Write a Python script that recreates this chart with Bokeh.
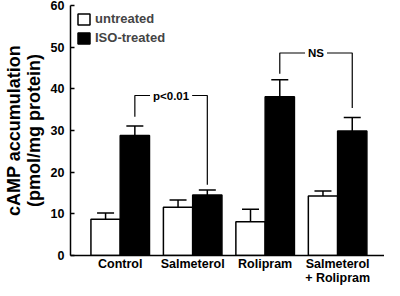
from bokeh.plotting import figure
from bokeh.models import (Range1d, FixedTicker, ColumnDataSource, Whisker, TeeHead,
                          Legend, LegendItem)
from bokeh.core.properties import value
from bokeh.embed import file_html
from bokeh.resources import INLINE

# ---------------- data ----------------
categories = ["Control", "Salmeterol", "Rolipram", "Salmeterol\n+ Rolipram"]
untreated = [8.7, 11.6, 8.1, 14.3]
untreated_sem = [1.5, 1.7, 3.0, 1.2]
iso_treated = [28.8, 14.5, 38.1, 29.9]
iso_sem = [2.3, 1.2, 4.1, 3.2]
y_ticks = [0, 10, 20, 30, 40, 50, 60]

# significance brackets between ISO-treated bars
bracket_from = [0, 2]
bracket_to = [1, 3]
bracket_top = [38.4, 48.6]
bracket_left_end = [33.3, 43.6]
bracket_right_end = [17.0, 35.4]
bracket_labels = ["p<0.01", "NS"]

# ---------------- layout ----------------
FONT = "Liberation Sans"
bar_w = 0.404
off = bar_w / 2
groups = list(range(len(categories)))

p = figure(width=384, height=288, output_backend="svg", toolbar_location=None,
           x_range=Range1d(-0.686, 3.647), y_range=Range1d(0, 60),
           min_border_left=62, min_border_right=0, min_border_top=5, min_border_bottom=0)
p.outline_line_color = None
p.xgrid.visible = False
p.ygrid.visible = False

src_u = ColumnDataSource(dict(x=[g - off for g in groups], top=untreated,
                              upper=[m + s for m, s in zip(untreated, untreated_sem)]))
src_i = ColumnDataSource(dict(x=[g + off for g in groups], top=iso_treated,
                              upper=[m + s for m, s in zip(iso_treated, iso_sem)]))

r_u = p.vbar(x="x", top="top", width=bar_w, source=src_u, fill_color="white",
             line_color="black", line_width=1.5)
r_i = p.vbar(x="x", top="top", width=bar_w, source=src_i, fill_color="black",
             line_color="black", line_width=1.5)

for src in (src_u, src_i):
    w = Whisker(base="x", upper="upper", lower="top", source=src,
                upper_head=TeeHead(size=17, line_width=1.5, line_color="black"),
                lower_head=None, line_width=1.5, line_color="black")
    p.add_layout(w)

# brackets
xs, ys, lx, ly = [], [], [], []
for a, b, t, le, re in zip(bracket_from, bracket_to, bracket_top, bracket_left_end, bracket_right_end):
    xl, xr = a + off, b + off
    xs.append([xl, xl, xr, xr])
    ys.append([le, t, t, re])
    lx.append((xl + xr) / 2)
    ly.append(t)
p.multi_line(xs=xs, ys=ys, line_color="black", line_width=1.2)
lab_src = ColumnDataSource(dict(x=lx, y=ly, text=bracket_labels))
p.text(x="x", y="y", text="text", source=lab_src, text_align="center",
       text_baseline="middle", text_font=value(FONT), text_font_style="bold",
       text_font_size="11.5px", background_fill_color="white", padding=3)

# axes
p.yaxis.ticker = FixedTicker(ticks=y_ticks)
p.yaxis.minor_tick_line_color = None
p.yaxis.major_tick_in = 4
p.yaxis.major_tick_out = 0
p.yaxis.major_tick_line_width = 1.5
p.yaxis.axis_line_width = 1.5
p.yaxis.major_label_text_font = FONT
p.yaxis.major_label_text_font_style = "bold"
p.yaxis.major_label_text_font_size = "12.5px"
p.yaxis.major_label_text_color = "black"
p.yaxis.major_label_standoff = 6
p.yaxis.axis_label = "cAMP accumulation\n(pmol/mg protein)"
p.yaxis.axis_label_text_font = FONT
p.yaxis.axis_label_text_font_style = "bold"
p.yaxis.axis_label_text_font_size = "18px"
p.yaxis.axis_label_text_line_height = 1.0
p.yaxis.axis_label_standoff = 4
p.yaxis.axis_label_text_color = "black"

p.xaxis.ticker = FixedTicker(ticks=groups)
p.xaxis.major_label_overrides = {g: c for g, c in zip(groups, categories)}
p.xaxis.minor_tick_line_color = None
p.xaxis.major_tick_line_color = None
p.xaxis.major_tick_in = 0
p.xaxis.major_tick_out = 0
p.xaxis.axis_line_width = 1.5
p.xaxis.major_label_text_font = FONT
p.xaxis.major_label_text_font_style = "bold"
p.xaxis.major_label_text_font_size = "12.5px"
p.xaxis.major_label_text_color = "black"
p.xaxis.major_label_text_line_height = 1.05
p.xaxis.major_label_standoff = 1

legend = Legend(items=[LegendItem(label="untreated", renderers=[r_u]),
                       LegendItem(label="ISO-treated", renderers=[r_i])],
                location="top_left", margin=6, padding=0, spacing=4,
                glyph_width=15, glyph_height=14, label_height=14, label_standoff=4,
                label_text_font=FONT, label_text_font_style="bold",
                label_text_font_size="13px", border_line_color=None,
                background_fill_alpha=0)
p.add_layout(legend)

open("out.html", "w").write(file_html(p, INLINE))
